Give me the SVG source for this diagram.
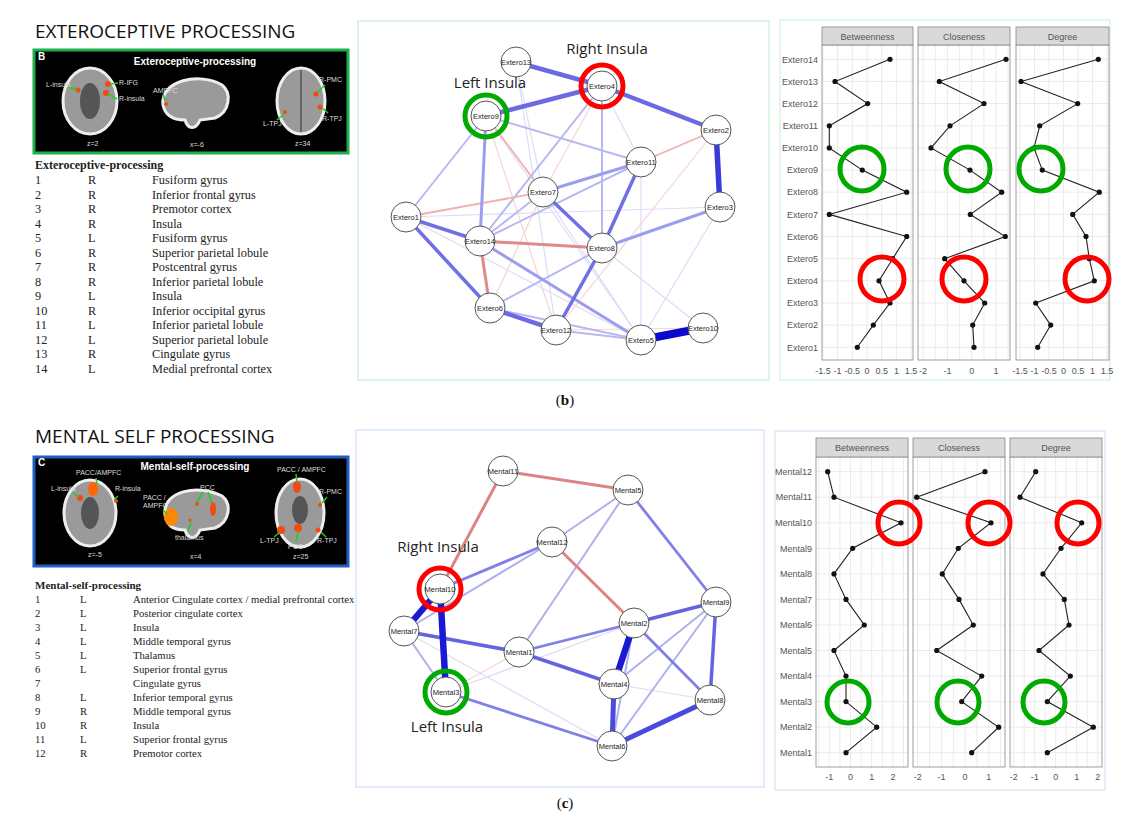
<svg xmlns="http://www.w3.org/2000/svg" width="1136" height="825" viewBox="0 0 1136 825">
<style>
.ttl{font-family:"Open Sans","Liberation Sans",sans-serif;font-size:19px;fill:#111}
.tb{font-family:"Liberation Serif",serif;font-size:12.3px;fill:#222}
.tbh{font-family:"Liberation Serif",serif;font-size:12px;font-weight:bold;fill:#222}
.tc{font-family:"Liberation Serif",serif;font-size:10.7px;fill:#222}
.tch{font-family:"Liberation Serif",serif;font-size:11px;font-weight:bold;fill:#222}
.br{font-family:"Liberation Sans",sans-serif;font-size:7px;fill:#ddd}
.brt{font-family:"Liberation Sans",sans-serif;font-size:10px;font-weight:bold;fill:#fff}
.nd circle{fill:#fff;stroke:#555;stroke-width:1}
.nd text{font-family:"Liberation Sans",sans-serif;font-size:7.5px;fill:#222;text-anchor:middle}
.ins{font-family:"Open Sans","Liberation Sans",sans-serif;font-size:15px;fill:#222;text-anchor:middle}
.axm{font-family:"Liberation Sans",sans-serif;font-size:9px;fill:#555;text-anchor:middle}
.axr{font-family:"Liberation Sans",sans-serif;font-size:9px;fill:#555;text-anchor:end}
.strip{fill:#d9d9d9;stroke:#888;stroke-width:0.8}
.pan{fill:none;stroke:#888;stroke-width:0.8}
.grid{stroke:#ebebeb;stroke-width:1;fill:none}
.ln{fill:none;stroke:#222;stroke-width:1.1;marker-start:url(#dot);marker-mid:url(#dot);marker-end:url(#dot)}
.rc{fill:none;stroke:#f00;stroke-width:5}
.gc{fill:none;stroke:#0a0;stroke-width:5}
.brain{fill:#9a9a9a;stroke:#eee;stroke-width:3}
.hot{fill:#f24a10}
.gl{stroke:#2c2;stroke-width:1.5}
.cap{font-family:"Liberation Serif",serif;font-size:15px;fill:#111;text-anchor:middle}
</style>
<defs>
<marker id="dot" markerUnits="userSpaceOnUse" markerWidth="6" markerHeight="6" refX="3" refY="3"><circle cx="3" cy="3" r="2.6" fill="#111"/></marker>
</defs>
<rect width="1136" height="825" fill="#fff"/>

<text class="ttl" x="35" y="38">EXTEROCEPTIVE PROCESSING</text>
<text class="ttl" x="35" y="443">MENTAL SELF PROCESSING</text>

<g id="brainB">
<rect x="34" y="50" width="314" height="103" fill="#000" stroke="#1db04a" stroke-width="3"/>
<text class="brt" x="38" y="60" font-size="8">B</text>
<text class="brt" x="195" y="65" text-anchor="middle">Exteroceptive-processing</text>
<ellipse class="brain" cx="90" cy="101" rx="27" ry="33"/>
<ellipse cx="90" cy="101" rx="10" ry="18" fill="#555"/>
<circle class="hot" cx="78" cy="90" r="2.5"/><circle class="hot" cx="108" cy="84" r="3"/><circle class="hot" cx="106" cy="93" r="3"/>
<line class="gl" x1="68" y1="87" x2="77" y2="90"/><line class="gl" x1="110" y1="84" x2="118" y2="83"/><line class="gl" x1="108" y1="94" x2="117" y2="99"/>
<text class="br" x="46" y="87">L-insula</text><text class="br" x="119" y="85">R-IFG</text><text class="br" x="119" y="101">R-insula</text>
<text class="br" x="87" y="146">z=2</text>
<path class="brain" d="M163,105 C160,80 200,72 222,85 C232,93 230,112 215,118 L200,120 C196,130 188,130 185,120 C172,120 165,115 163,105Z"/>
<circle class="hot" cx="166" cy="104" r="2"/><line class="gl" x1="165" y1="101" x2="163" y2="94"/>
<text class="br" x="153" y="93">AMPFC</text>
<text class="br" x="190" y="147">x=-6</text>
<ellipse class="brain" cx="301" cy="101" rx="24" ry="33"/>
<line x1="301" y1="70" x2="301" y2="132" stroke="#666" stroke-width="2"/>
<circle class="hot" cx="316" cy="94" r="2.5"/><circle class="hot" cx="320" cy="107" r="2.5"/><circle class="hot" cx="285" cy="112" r="2"/>
<line class="gl" x1="318" y1="92" x2="325" y2="85"/><line class="gl" x1="322" y1="108" x2="328" y2="113"/><line class="gl" x1="284" y1="114" x2="277" y2="120"/>
<text class="br" x="319" y="82">R-PMC</text><text class="br" x="322" y="121">R-TPJ</text><text class="br" x="263" y="126">L-TPJ</text>
<text class="br" x="295" y="146">z=34</text>
</g>

<g id="tableB">
<text class="tbh" x="35" y="169">Exteroceptive-processing</text>
<g class="tb">
<text x="35" y="184">1</text><text x="88" y="184">R</text><text x="152" y="184">Fusiform gyrus</text>
<text x="35" y="198.5">2</text><text x="88" y="198.5">R</text><text x="152" y="198.5">Inferior frontal gyrus</text>
<text x="35" y="213">3</text><text x="88" y="213">R</text><text x="152" y="213">Premotor cortex</text>
<text x="35" y="227.5">4</text><text x="88" y="227.5">R</text><text x="152" y="227.5">Insula</text>
<text x="35" y="242">5</text><text x="88" y="242">L</text><text x="152" y="242">Fusiform gyrus</text>
<text x="35" y="256.5">6</text><text x="88" y="256.5">R</text><text x="152" y="256.5">Superior parietal lobule</text>
<text x="35" y="271">7</text><text x="88" y="271">R</text><text x="152" y="271">Postcentral gyrus</text>
<text x="35" y="285.5">8</text><text x="88" y="285.5">R</text><text x="152" y="285.5">Inferior parietal lobule</text>
<text x="35" y="300">9</text><text x="88" y="300">L</text><text x="152" y="300">Insula</text>
<text x="35" y="314.5">10</text><text x="88" y="314.5">R</text><text x="152" y="314.5">Inferior occipital gyrus</text>
<text x="35" y="329">11</text><text x="88" y="329">L</text><text x="152" y="329">Inferior parietal lobule</text>
<text x="35" y="343.5">12</text><text x="88" y="343.5">L</text><text x="152" y="343.5">Superior parietal lobule</text>
<text x="35" y="358">13</text><text x="88" y="358">R</text><text x="152" y="358">Cingulate gyrus</text>
<text x="35" y="372.5">14</text><text x="88" y="372.5">L</text><text x="152" y="372.5">Medial prefrontal cortex</text>
</g></g>

<rect x="358" y="21" width="411" height="359" fill="none" stroke="#bfe8d4" stroke-width="1"/>
<g id="connectorsB" fill="none" stroke-linecap="round">
<g stroke="#dcdcf7" stroke-width="1.2">
<line x1="516" y1="62" x2="543" y2="192"/><line x1="516" y1="62" x2="556" y2="330"/><line x1="602" y1="86" x2="641" y2="162"/>
<line x1="602" y1="86" x2="480" y2="241"/><line x1="480" y1="241" x2="641" y2="340"/><line x1="406" y1="217" x2="641" y2="340"/>
<line x1="602" y1="248" x2="703" y2="328"/><line x1="720" y1="207" x2="641" y2="340"/><line x1="720" y1="207" x2="406" y2="217"/>
<line x1="486" y1="116" x2="641" y2="340"/><line x1="641" y1="162" x2="641" y2="340"/><line x1="543" y1="192" x2="641" y2="340"/>
</g>
<g stroke="#f6d4d4" stroke-width="1.2">
<line x1="716" y1="130" x2="556" y2="330"/><line x1="602" y1="86" x2="543" y2="192"/><line x1="556" y1="330" x2="703" y2="328"/>
<line x1="486" y1="116" x2="556" y2="330"/><line x1="543" y1="192" x2="490" y2="308"/>
</g>
<g stroke="#b8b8f0" stroke-width="2">
<line x1="486" y1="116" x2="641" y2="162"/><line x1="602" y1="86" x2="602" y2="248"/><line x1="480" y1="241" x2="641" y2="162"/>
<line x1="490" y1="308" x2="602" y2="248"/><line x1="556" y1="330" x2="641" y2="340"/><line x1="490" y1="308" x2="641" y2="340"/>
<line x1="406" y1="217" x2="486" y2="116"/><line x1="480" y1="241" x2="543" y2="192"/><line x1="602" y1="86" x2="480" y2="241"/>
</g>
<g stroke="#f0b0b0" stroke-width="1.8">
<line x1="716" y1="130" x2="641" y2="162"/><line x1="406" y1="217" x2="543" y2="192"/><line x1="486" y1="116" x2="543" y2="192"/>
</g>
<g stroke="#9d9dee" stroke-width="3">
<line x1="720" y1="207" x2="602" y2="248"/><line x1="543" y1="192" x2="641" y2="162"/><line x1="486" y1="116" x2="480" y2="241"/>
<line x1="480" y1="241" x2="641" y2="340"/>
</g>
<g stroke="#7070e4" stroke-width="3.5">
<line x1="406" y1="217" x2="480" y2="241"/><line x1="406" y1="217" x2="490" y2="308"/><line x1="602" y1="248" x2="641" y2="162"/>
<line x1="543" y1="192" x2="602" y2="248"/><line x1="602" y1="248" x2="556" y2="330"/>
</g>
<g stroke="#6a6ae2" stroke-width="4.5">
<line x1="516" y1="62" x2="602" y2="86"/><line x1="486" y1="116" x2="602" y2="86"/><line x1="602" y1="86" x2="716" y2="130"/>
<line x1="490" y1="308" x2="556" y2="330"/>
</g>
<line x1="716" y1="130" x2="720" y2="207" stroke="#3a3ad8" stroke-width="5.5"/>
<line x1="641" y1="340" x2="703" y2="328" stroke="#0a0acc" stroke-width="8" stroke-linecap="butt"/>
<g stroke="#e08a8a" stroke-width="3"><line x1="480" y1="241" x2="602" y2="248"/><line x1="480" y1="241" x2="490" y2="308"/></g>
</g>
<g class="nd">
<g id="Extero13"><circle cx="516" cy="62" r="15"/><text x="516" y="64.5">Extero13</text></g>
<g id="Extero4"><circle cx="602" cy="86" r="15"/><text x="602" y="88.5">Extero4</text></g>
<g id="Extero9"><circle cx="486" cy="116" r="15"/><text x="486" y="118.5">Extero9</text></g>
<g id="Extero2"><circle cx="716" cy="130" r="15"/><text x="716" y="132.5">Extero2</text></g>
<g id="Extero11"><circle cx="641" cy="162" r="15"/><text x="641" y="164.5">Extero11</text></g>
<g id="Extero7"><circle cx="543" cy="192" r="15"/><text x="543" y="194.5">Extero7</text></g>
<g id="Extero3"><circle cx="720" cy="207" r="15"/><text x="720" y="209.5">Extero3</text></g>
<g id="Extero1"><circle cx="406" cy="217" r="15"/><text x="406" y="219.5">Extero1</text></g>
<g id="Extero14"><circle cx="480" cy="241" r="15"/><text x="480" y="243.5">Extero14</text></g>
<g id="Extero8"><circle cx="602" cy="248" r="15"/><text x="602" y="250.5">Extero8</text></g>
<g id="Extero6"><circle cx="490" cy="308" r="15"/><text x="490" y="310.5">Extero6</text></g>
<g id="Extero12"><circle cx="556" cy="330" r="15"/><text x="556" y="332.5">Extero12</text></g>
<g id="Extero5"><circle cx="641" cy="340" r="15"/><text x="641" y="342.5">Extero5</text></g>
<g id="Extero10"><circle cx="703" cy="328" r="15"/><text x="703" y="330.5">Extero10</text></g>
</g>
<circle class="rc" cx="602" cy="86" r="21"/>
<circle class="gc" cx="486" cy="116" r="21"/>
<text class="ins" x="607" y="54">Right Insula</text>
<text class="ins" x="490" y="88">Left Insula</text>

<g id="plotB">
<rect x="780" y="20" width="330" height="360" fill="none" stroke="#c8eedc"/>
<path class="grid" d="M822,59.3H1109M822,81.5H1109M822,103.6H1109M822,125.8H1109M822,147.9H1109M822,170.1H1109M822,192.2H1109M822,214.4H1109M822,236.5H1109M822,258.7H1109M822,280.8H1109M822,303H1109M822,325.1H1109M822,347.3H1109
M822.9,45V360M837.6,45V360M852.3,45V360M867,45V360M881.7,45V360M896.4,45V360M911.1,45V360
M923.1,45V360M935.3,45V360M947.4,45V360M959.6,45V360M971.7,45V360M983.9,45V360M996,45V360M1008,45V360
M1020,45V360M1034.5,45V360M1049,45V360M1063.5,45V360M1078,45V360M1092.5,45V360M1107,45V360"/>
<rect x="913.5" y="44" width="4" height="317" fill="#fff"/><rect x="1010.5" y="44" width="5" height="317" fill="#fff"/>
<rect class="pan" x="822" y="45" width="91" height="315"/><rect class="pan" x="918" y="45" width="92" height="315"/><rect class="pan" x="1016" y="45" width="93" height="315"/>
<rect class="strip" x="822" y="27" width="91" height="18"/><rect class="strip" x="918" y="27" width="92" height="18"/><rect class="strip" x="1016" y="27" width="93" height="18"/>
<text class="axm" x="867.5" y="39.5">Betweenness</text><text class="axm" x="964" y="39.5">Closeness</text><text class="axm" x="1062.5" y="39.5">Degree</text>
<g class="axr">
<text x="818" y="62.5">Extero14</text><text x="818" y="84.7">Extero13</text><text x="818" y="106.8">Extero12</text><text x="818" y="129">Extero11</text>
<text x="818" y="151.1">Extero10</text><text x="818" y="173.3">Extero9</text><text x="818" y="195.4">Extero8</text><text x="818" y="217.6">Extero7</text>
<text x="818" y="239.7">Extero6</text><text x="818" y="261.9">Extero5</text><text x="818" y="284">Extero4</text><text x="818" y="306.2">Extero3</text>
<text x="818" y="328.3">Extero2</text><text x="818" y="350.5">Extero1</text>
</g>
<g class="axm">
<text x="822.9" y="374">-1.5</text><text x="837.6" y="374">-1</text><text x="852.3" y="374">-0.5</text><text x="867" y="374">0</text><text x="881.7" y="374">0.5</text><text x="896.4" y="374">1</text><text x="911.1" y="374">1.5</text>
<text x="923.1" y="374">-2</text><text x="947.4" y="374">-1</text><text x="971.7" y="374">0</text><text x="996" y="374">1</text>
<text x="1020" y="374">-1.5</text><text x="1034.5" y="374">-1</text><text x="1049" y="374">-0.5</text><text x="1063.5" y="374">0</text><text x="1078" y="374">0.5</text><text x="1092.5" y="374">1</text><text x="1107" y="374">1.5</text>
</g>
<polyline class="ln" points="890,59.3 835,81.5 867.7,103.6 829.3,125.8 829.3,147.9 862.3,170.1 906.7,192.2 829.3,214.4 906.7,236.5 892.7,258.7 879,280.8 890,303 873.3,325.1 857.3,347.3"/>
<polyline class="ln" points="1006,59.3 939.3,81.5 984,103.6 950,125.8 931,147.9 970,170.1 1001.7,192.2 970.3,214.4 1005.3,236.5 944.7,258.7 964,280.8 984.7,303 972.7,325.1 974,347.3"/>
<polyline class="ln" points="1098.3,59.3 1021,81.5 1077.7,103.6 1039.7,125.8 1034,147.9 1042.3,170.1 1099.3,192.2 1072.7,214.4 1086,236.5 1089.3,258.7 1094.3,280.8 1035.7,303 1050.7,325.1 1037.7,347.3"/>
<circle class="gc" cx="862" cy="169" r="22"/><circle class="gc" cx="968" cy="169" r="22"/><circle class="gc" cx="1041" cy="169" r="22"/>
<circle class="rc" cx="882" cy="279" r="22"/><circle class="rc" cx="964" cy="279" r="22"/><circle class="rc" cx="1087" cy="279" r="22"/>
</g>
<text class="cap" x="565" y="405">(<tspan font-weight="bold">b</tspan>)</text>

<g id="brainC">
<rect x="34" y="457" width="314" height="109" fill="#000" stroke="#1f5fbf" stroke-width="3"/>
<text class="brt" x="38" y="466" font-size="8">C</text>
<text class="brt" x="195" y="470" text-anchor="middle">Mental-self-processing</text>
<ellipse class="brain" cx="90" cy="513" rx="26" ry="33"/>
<ellipse cx="90" cy="513" rx="9" ry="16" fill="#555"/>
<ellipse cx="93" cy="489" rx="5" ry="7" fill="#f60"/><circle class="hot" cx="80" cy="498" r="3"/><circle class="hot" cx="116" cy="501" r="2"/>
<line class="gl" x1="96" y1="478" x2="97" y2="484"/><line class="gl" x1="73" y1="493" x2="79" y2="497"/><line class="gl" x1="118" y1="496" x2="114" y2="500"/>
<text class="br" x="76" y="475">PACC/AMPFC</text><text class="br" x="51" y="491">L-insula</text><text class="br" x="115" y="491">R-insula</text>
<text class="br" x="88" y="557">z=-5</text>
<path class="brain" d="M165,515 C162,490 200,484 222,496 C232,504 230,522 215,528 L200,530 C196,540 188,540 185,530 C172,530 167,525 165,515Z"/>
<ellipse cx="171" cy="517" rx="7" ry="9" fill="#f80"/><ellipse class="hot" cx="213" cy="509" rx="3" ry="7"/><circle class="hot" cx="197" cy="504" r="2"/><circle class="hot" cx="190" cy="520" r="1.5"/>
<line class="gl" x1="163" y1="510" x2="167" y2="514"/><line class="gl" x1="203" y1="492" x2="197" y2="502"/><line class="gl" x1="208" y1="492" x2="212" y2="503"/><line class="gl" x1="188" y1="531" x2="191" y2="522"/>
<text class="br" x="143" y="500">PACC /</text><text class="br" x="143" y="508">AMPFC</text><text class="br" x="200" y="490">PCC</text><text class="br" x="175" y="540">thalamus</text>
<text class="br" x="190" y="559">x=4</text>
<ellipse class="brain" cx="300" cy="513" rx="24" ry="34"/>
<ellipse cx="300" cy="510" rx="8" ry="14" fill="#555"/>
<ellipse class="hot" cx="297" cy="487" rx="4" ry="6"/><circle class="hot" cx="320" cy="505" r="2"/><circle class="hot" cx="281" cy="530" r="4"/><circle class="hot" cx="298" cy="528" r="4"/><circle class="hot" cx="318" cy="530" r="2.5"/>
<line class="gl" x1="296" y1="474" x2="297" y2="482"/><line class="gl" x1="322" y1="503" x2="327" y2="497"/><line class="gl" x1="279" y1="533" x2="274" y2="537"/><line class="gl" x1="298" y1="532" x2="296" y2="542"/><line class="gl" x1="321" y1="532" x2="326" y2="537"/>
<text class="br" x="277" y="472">PACC / AMPFC</text><text class="br" x="319" y="494">R-PMC</text><text class="br" x="260" y="543">L-TPJ</text><text class="br" x="288" y="549">PCC</text><text class="br" x="317" y="543">R-TPJ</text>
<text class="br" x="293" y="559">z=25</text>
</g>

<g id="tableC">
<text class="tch" x="35" y="589">Mental-self-processing</text>
<g class="tc">
<text x="35" y="603">1</text><text x="80" y="603">L</text><text x="133" y="603">Anterior Cingulate cortex / medial prefrontal cortex</text>
<text x="35" y="617">2</text><text x="80" y="617">L</text><text x="133" y="617">Posterior cingulate cortex</text>
<text x="35" y="631">3</text><text x="80" y="631">L</text><text x="133" y="631">Insula</text>
<text x="35" y="645">4</text><text x="80" y="645">L</text><text x="133" y="645">Middle temporal gyrus</text>
<text x="35" y="659">5</text><text x="80" y="659">L</text><text x="133" y="659">Thalamus</text>
<text x="35" y="673">6</text><text x="80" y="673">L</text><text x="133" y="673">Superior frontal gyrus</text>
<text x="35" y="687">7</text><text x="133" y="687">Cingulate gyrus</text>
<text x="35" y="701">8</text><text x="80" y="701">L</text><text x="133" y="701">Inferior temporal gyrus</text>
<text x="35" y="715">9</text><text x="80" y="715">R</text><text x="133" y="715">Middle temporal gyrus</text>
<text x="35" y="729">10</text><text x="80" y="729">R</text><text x="133" y="729">Insula</text>
<text x="35" y="743">11</text><text x="80" y="743">L</text><text x="133" y="743">Superior frontal gyrus</text>
<text x="35" y="757">12</text><text x="80" y="757">R</text><text x="133" y="757">Premotor cortex</text>
</g></g>

<rect x="356" y="430" width="408" height="357" fill="none" stroke="#c4dcf2" stroke-width="1"/>
<g id="connectorsC" fill="none" stroke-linecap="round">
<g stroke="#dcdcf7" stroke-width="1.2">
<line x1="404" y1="631" x2="612" y2="746"/><line x1="446" y1="692" x2="634" y2="623"/><line x1="440" y1="589" x2="552" y2="542"/>
<line x1="614" y1="684" x2="710" y2="700"/>
</g>
<line x1="446" y1="692" x2="519" y2="652" stroke="#f6d0d0" stroke-width="1.2"/>
<g stroke="#b0b0ef" stroke-width="2">
<line x1="628" y1="490" x2="519" y2="652"/><line x1="628" y1="490" x2="552" y2="542"/><line x1="716" y1="602" x2="614" y2="684"/>
<line x1="716" y1="602" x2="612" y2="746"/><line x1="634" y1="623" x2="612" y2="746"/><line x1="404" y1="631" x2="446" y2="692"/>
<line x1="404" y1="631" x2="552" y2="542"/>
</g>
<g stroke="#8080e8" stroke-width="2.8">
<line x1="519" y1="652" x2="634" y2="623"/><line x1="634" y1="623" x2="710" y2="700"/><line x1="446" y1="692" x2="612" y2="746"/>
<line x1="628" y1="490" x2="716" y2="602"/><line x1="440" y1="589" x2="552" y2="542"/>
</g>
<g stroke="#6464e0" stroke-width="3.5">
<line x1="404" y1="631" x2="519" y2="652"/><line x1="519" y1="652" x2="614" y2="684"/><line x1="716" y1="602" x2="710" y2="700"/>
<line x1="634" y1="623" x2="716" y2="602"/>
</g>
<g stroke="#4a4ade" stroke-width="5"><line x1="614" y1="684" x2="612" y2="746"/><line x1="612" y1="746" x2="710" y2="700"/></g>
<g stroke="#1a1ad2" stroke-width="6.5"><line x1="440" y1="589" x2="404" y2="631"/><line x1="440" y1="589" x2="446" y2="692"/><line x1="634" y1="623" x2="614" y2="684"/></g>
<g stroke="#dc8484" stroke-width="3"><line x1="503" y1="471" x2="628" y2="490"/><line x1="503" y1="471" x2="440" y2="589"/><line x1="552" y1="542" x2="634" y2="623"/></g>
</g>
<g class="nd">
<g id="Mental11"><circle cx="503" cy="471" r="15"/><text x="503" y="473.5">Mental11</text></g>
<g id="Mental5"><circle cx="628" cy="490" r="15"/><text x="628" y="492.5">Mental5</text></g>
<g id="Mental12"><circle cx="552" cy="542" r="15"/><text x="552" y="544.5">Mental12</text></g>
<g id="Mental10"><circle cx="440" cy="589" r="15"/><text x="440" y="591.5">Mental10</text></g>
<g id="Mental7"><circle cx="404" cy="631" r="15"/><text x="404" y="633.5">Mental7</text></g>
<g id="Mental1"><circle cx="519" cy="652" r="15"/><text x="519" y="654.5">Mental1</text></g>
<g id="Mental2"><circle cx="634" cy="623" r="15"/><text x="634" y="625.5">Mental2</text></g>
<g id="Mental9"><circle cx="716" cy="602" r="15"/><text x="716" y="604.5">Mental9</text></g>
<g id="Mental4"><circle cx="614" cy="684" r="15"/><text x="614" y="686.5">Mental4</text></g>
<g id="Mental8"><circle cx="710" cy="700" r="15"/><text x="710" y="702.5">Mental8</text></g>
<g id="Mental3"><circle cx="446" cy="692" r="15"/><text x="446" y="694.5">Mental3</text></g>
<g id="Mental6"><circle cx="612" cy="746" r="15"/><text x="612" y="748.5">Mental6</text></g>
</g>
<circle class="rc" cx="440" cy="589" r="21"/>
<circle class="gc" cx="446" cy="692" r="21"/>
<text class="ins" x="438" y="552">Right Insula</text>
<text class="ins" x="447" y="732">Left Insula</text>

<g id="plotC">
<rect x="775" y="431" width="330" height="359" fill="none" stroke="#cce0f4"/>
<path class="grid" d="M816,471.7H1102M816,497.2H1102M816,522.8H1102M816,548.3H1102M816,573.9H1102M816,599.4H1102M816,625H1102M816,650.5H1102M816,676.1H1102M816,701.6H1102M816,727.2H1102M816,752.7H1102
M818.7,457V767M829.3,457V767M839.9,457V767M850.5,457V767M861.1,457V767M871.7,457V767M882.3,457V767M892.9,457V767M903.5,457V767
M917.7,457V767M929.6,457V767M941.4,457V767M953.3,457V767M965.1,457V767M977,457V767M988.8,457V767M1000.7,457V767
M1013.7,457V767M1024.2,457V767M1034.7,457V767M1045.2,457V767M1055.7,457V767M1066.2,457V767M1076.7,457V767M1087.2,457V767M1097.7,457V767"/>
<rect x="908.5" y="456" width="4" height="312" fill="#fff"/><rect x="1005.5" y="456" width="4" height="312" fill="#fff"/>
<rect class="pan" x="816" y="457" width="92" height="310"/><rect class="pan" x="913" y="457" width="92" height="310"/><rect class="pan" x="1010" y="457" width="92" height="310"/>
<rect class="strip" x="816" y="438" width="92" height="19"/><rect class="strip" x="913" y="438" width="92" height="19"/><rect class="strip" x="1010" y="438" width="92" height="19"/>
<text class="axm" x="862" y="451">Betweenness</text><text class="axm" x="959" y="451">Closeness</text><text class="axm" x="1056" y="451">Degree</text>
<g class="axr">
<text x="812" y="474.9">Mental12</text><text x="812" y="500.4">Mental11</text><text x="812" y="526">Mental10</text><text x="812" y="551.5">Mental9</text>
<text x="812" y="577.1">Mental8</text><text x="812" y="602.6">Mental7</text><text x="812" y="628.2">Mental6</text><text x="812" y="653.7">Mental5</text>
<text x="812" y="679.3">Mental4</text><text x="812" y="704.8">Mental3</text><text x="812" y="730.4">Mental2</text><text x="812" y="755.9">Mental1</text>
</g>
<g class="axm">
<text x="829.3" y="780">-1</text><text x="850.5" y="780">0</text><text x="871.7" y="780">1</text><text x="892.9" y="780">2</text>
<text x="917.7" y="780">-2</text><text x="941.4" y="780">-1</text><text x="965.1" y="780">0</text><text x="988.8" y="780">1</text>
<text x="1013.7" y="780">-2</text><text x="1034.7" y="780">-1</text><text x="1055.7" y="780">0</text><text x="1076.7" y="780">1</text><text x="1097.7" y="780">2</text>
</g>
<polyline class="ln" points="827.7,471.7 834,497.2 901,522.8 852.7,548.3 834,573.9 846,599.4 864.3,625 834,650.5 846,676.1 846,701.6 876.7,727.2 846,752.7"/>
<polyline class="ln" points="985,471.7 916.7,497.2 991,522.8 958.3,548.3 942.3,573.9 959,599.4 973.3,625 936.7,650.5 981.7,676.1 961.7,701.6 998.7,727.2 971.7,752.7"/>
<polyline class="ln" points="1035.7,471.7 1020,497.2 1081.7,522.8 1061,548.3 1043,573.9 1064.3,599.4 1069,625 1039,650.5 1070.3,676.1 1047.3,701.6 1093.3,727.2 1047.3,752.7"/>
<circle class="rc" cx="899" cy="523" r="21"/><circle class="rc" cx="989" cy="523" r="21"/><circle class="rc" cx="1078" cy="523" r="21"/>
<circle class="gc" cx="848" cy="702" r="21"/><circle class="gc" cx="958" cy="702" r="21"/><circle class="gc" cx="1044" cy="702" r="21"/>
</g>
<text class="cap" x="565" y="808">(<tspan font-weight="bold">c</tspan>)</text>
</svg>
